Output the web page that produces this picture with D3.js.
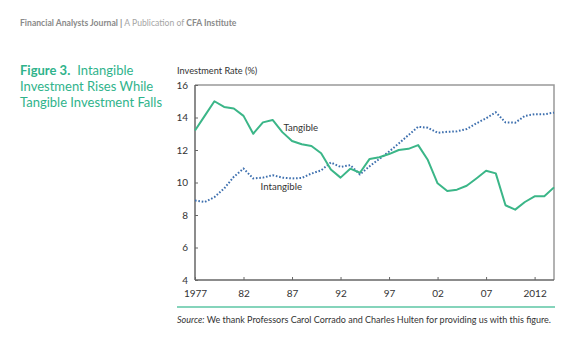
<!DOCTYPE html>
<html>
<head>
<meta charset="utf-8">
<script src="https://cdn.jsdelivr.net/npm/d3@7"></script>
<style>
  body { margin: 0; background: #fff; }
  svg { font-family: Lato, 'Open Sans', sans-serif; }
</style>
</head>
<body>
<div id="chart"></div>
<script>
// data
const years = [1977, 1978, 1979, 1980, 1981, 1982, 1983, 1984, 1985, 1986,
  1987, 1988, 1989, 1990, 1991, 1992, 1993, 1994, 1995, 1996,
  1997, 1998, 1999, 2000, 2001, 2002, 2003, 2004, 2005, 2006,
  2007, 2008, 2009, 2010, 2011, 2012, 2013, 2014]
const tangible = [13.2, 14.1, 15.0, 14.65, 14.55, 14.1, 13.0, 13.7, 13.85, 13.1,
  12.55, 12.35, 12.25, 11.8, 10.8, 10.3, 10.85, 10.6, 11.45, 11.55,
  11.75, 12.0, 12.07, 12.3, 11.38, 9.95, 9.48, 9.56, 9.8, 10.25,
  10.72, 10.56, 8.6, 8.33, 8.8, 9.15, 9.15, 9.7]
const intangible = [8.9, 8.8, 9.1, 9.63, 10.35, 10.86, 10.25, 10.3, 10.45, 10.3,
  10.25, 10.28, 10.55, 10.75, 11.23, 10.96, 11.07, 10.5, 11.0, 11.45,
  11.9, 12.4, 12.92, 13.43, 13.37, 13.06, 13.12, 13.15, 13.29, 13.64,
  13.95, 14.32, 13.7, 13.68, 14.1, 14.2, 14.2, 14.3]
const xTicks = [1977, 1982, 1987, 1992, 1997, 2002, 2007, 2012]
const xTickLabels = ['1977', '82', '87', '92', '97', '02', '07', '2012']
const yTicks = [4, 6, 8, 10, 12, 14, 16]

const W = 578
const H = 340
const c_green = '#3bb688'
const c_blue = '#3d6fae'
const c_teal = '#2fb38b'

const svg = d3.select('#chart').append('svg')
  .attr('width', W)
  .attr('height', H)

// header
const head = svg.append('text')
  .attr('x', 20)
  .attr('y', 26)
  .style('font-size', '8.6px')
  .attr('fill', '#8a8a8a')
head.append('tspan').text('Financial Analysts Journal | ').style('font-weight', 'bold')
head.append('tspan').text('A Publication of ').attr('fill', '#a5a5a5')
head.append('tspan').text('CFA Institute').style('font-weight', 'bold')

// figure title
const title = svg.append('text')
  .attr('fill', c_teal)
  .style('font-size', '13px')
title.append('tspan').attr('x', 20).attr('y', 74.5).text('Figure 3.').style('font-weight', 'bold')
title.append('tspan').attr('dx', 7).text('Intangible')
title.append('tspan').attr('x', 20).attr('y', 91).text('Investment Rises While')
title.append('tspan').attr('x', 20).attr('y', 107).text('Tangible Investment Falls')

// scales
const x = d3.scaleLinear().domain([1977, 2014]).range([195, 554])
const y = d3.scaleLinear().domain([4, 16]).range([280, 85])

svg.append('text')
  .attr('x', 177)
  .attr('y', 73.5)
  .style('font-size', '9.2px')
  .attr('fill', '#333')
  .text('Investment Rate (%)')

// frame (top / right)
svg.append('path')
  .attr('d', `M${x(1977)},${y(16)}H${x(2014)}V${y(4)}`)
  .attr('fill', 'none')
  .attr('stroke', '#999')
  .attr('stroke-width', 1.5)

// axes
const yAxis = d3.axisLeft(y).tickValues(yTicks).tickSize(-3).tickPadding(7)
const xAxis = d3.axisBottom(x).tickValues(xTicks).tickSize(-3).tickPadding(8)
  .tickFormat((d, i) => xTickLabels[i])

function styleAxis (g) {
  g.select('.domain').attr('stroke', '#666').attr('stroke-width', 1.5)
  g.selectAll('.tick line').attr('stroke', '#666')
  g.selectAll('text')
    .attr('fill', '#333')
    .style('font-size', '10px')
    .style('font-family', 'Lato, sans-serif')
}

svg.append('g')
  .attr('transform', `translate(${x(1977)},0)`)
  .call(yAxis)
  .call(g => g.select('.domain').attr('d', `M0,${y(16)}V${y(4)}`))
  .call(styleAxis)

svg.append('g')
  .attr('transform', `translate(0,${y(4)})`)
  .call(xAxis)
  .call(g => g.select('.domain').attr('d', `M${x(1977)},0H${x(2014)}`))
  .call(g => g.selectAll('.tick text').attr('dy', '0.9em'))
  .call(styleAxis)

// lines
const line = d3.line()
  .x((d) => x(d[0]))
  .y((d) => y(d[1]))

svg.append('path')
  .datum(years.map((yr, i) => [yr, intangible[i]]))
  .attr('d', line)
  .attr('fill', 'none')
  .attr('stroke', c_blue)
  .attr('stroke-width', 2)
  .attr('stroke-dasharray', '1.6,1.8')

svg.append('path')
  .datum(years.map((yr, i) => [yr, tangible[i]]))
  .attr('d', line)
  .attr('fill', 'none')
  .attr('stroke', c_green)
  .attr('stroke-width', 2)
  .attr('stroke-linejoin', 'round')

// line labels
svg.append('text')
  .attr('x', x(1987.9))
  .attr('y', y(13.15))
  .attr('text-anchor', 'middle')
  .style('font-size', '9.6px')
  .attr('fill', '#333')
  .text('Tangible')

svg.append('text')
  .attr('x', x(1985.9))
  .attr('y', y(9.55))
  .attr('text-anchor', 'middle')
  .style('font-size', '9.6px')
  .attr('fill', '#333')
  .text('Intangible')

// footer
svg.append('line')
  .attr('x1', 177)
  .attr('x2', 555)
  .attr('y1', 307)
  .attr('y2', 307)
  .attr('stroke', '#5cc6a4')
  .attr('stroke-width', 1.5)

const src = svg.append('text')
  .attr('x', 177)
  .attr('y', 322.5)
  .style('font-size', '9px')
  .attr('fill', '#333')
src.append('tspan').text('Source:').style('font-style', 'italic')
src.append('tspan').text(' We thank Professors Carol Corrado and Charles Hulten for providing us with this figure.')
</script>
</body>
</html>
